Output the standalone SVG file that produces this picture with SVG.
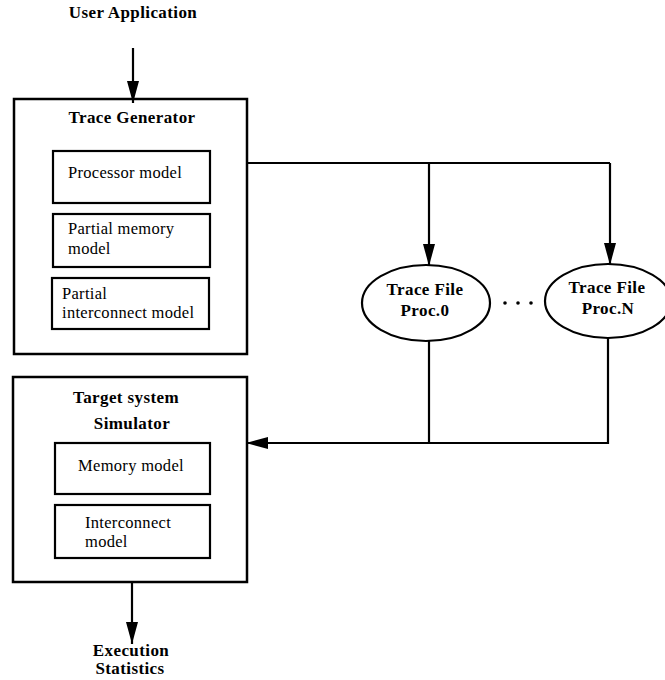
<svg xmlns="http://www.w3.org/2000/svg" width="665" height="680" viewBox="0 0 665 680">
<style>
.box{fill:none;stroke:#000;stroke-width:2.5}
.inner{fill:none;stroke:#000;stroke-width:2.2}
.line{fill:none;stroke:#000;stroke-width:2.2}
.t{font-family:"Liberation Serif","Times New Roman",serif;font-size:16.5px;letter-spacing:0.3px;fill:#000}
.b{font-family:"Liberation Serif","Times New Roman",serif;font-size:17px;font-weight:bold;letter-spacing:0.4px;fill:#000}
</style>
<defs>
<marker id="ah" viewBox="0 0 22 12" refX="22" refY="6" markerWidth="22" markerHeight="12" markerUnits="userSpaceOnUse" orient="auto">
<path d="M0,0 L22,6 L0,12 Z" fill="#000"/>
</marker>
</defs>
<g id="user-app"><text class="b" x="133" y="18" text-anchor="middle">User Application</text></g>
<g id="trace-generator">
<rect class="box" x="14" y="99" width="233" height="255"/>
<text class="b" x="132" y="123" text-anchor="middle">Trace Generator</text>
</g>
<g id="processor-model">
<rect class="inner" x="53" y="151" width="157" height="52"/>
<text class="t" x="68" y="178">Processor model</text>
</g>
<g id="partial-memory-model">
<rect class="inner" x="53" y="214" width="157" height="53"/>
<text class="t" x="68" y="234">Partial memory</text>
<text class="t" x="68" y="254">model</text>
</g>
<g id="partial-interconnect-model">
<rect class="inner" x="52" y="278" width="157" height="51"/>
<text class="t" x="62" y="299">Partial</text>
<text class="t" x="62" y="318">interconnect model</text>
</g>
<g id="target-system">
<rect class="box" x="13" y="377" width="234" height="205"/>
<text class="b" x="126" y="403" text-anchor="middle">Target system</text>
<text class="b" x="132" y="429" text-anchor="middle">Simulator</text>
</g>
<g id="memory-model">
<rect class="inner" x="55" y="443" width="155" height="51"/>
<text class="t" x="131" y="471" text-anchor="middle">Memory model</text>
</g>
<g id="interconnect-model">
<rect class="inner" x="55" y="505" width="155" height="53"/>
<text class="t" x="85" y="528">Interconnect</text>
<text class="t" x="85" y="547">model</text>
</g>
<g id="trace-file-0">
<ellipse class="inner" cx="426" cy="303" rx="64" ry="38"/>
<text class="b" x="425" y="295" text-anchor="middle">Trace File</text>
<text class="b" x="425" y="316" text-anchor="middle">Proc.0</text>
</g>
<g id="trace-file-n">
<ellipse class="inner" cx="608" cy="301" rx="63" ry="37"/>
<text class="b" x="607" y="293" text-anchor="middle">Trace File</text>
<text class="b" x="608" y="314" text-anchor="middle">Proc.N</text>
</g>
<g id="dots">
<circle cx="505" cy="303" r="1.8" fill="#000"/>
<circle cx="518" cy="303" r="1.8" fill="#000"/>
<circle cx="531" cy="303" r="1.8" fill="#000"/>
</g>
<g id="execution-statistics">
<text class="b" x="131" y="656" text-anchor="middle">Execution</text>
<text class="b" x="130" y="674" text-anchor="middle">Statistics</text>
</g>
<g id="connectors">
<line class="line" x1="133" y1="48" x2="133" y2="103" marker-end="url(#ah)"/>
<polyline class="line" points="247,163 610,163"/>
<line class="line" x1="429" y1="163" x2="429" y2="266" marker-end="url(#ah)"/>
<line class="line" x1="610" y1="163" x2="610" y2="265" marker-end="url(#ah)"/>
<polyline class="line" points="429,341 429,443"/>
<polyline class="line" points="608,338 608,443 429,443"/>
<line class="line" x1="429" y1="443" x2="246" y2="443" marker-end="url(#ah)"/>
<line class="line" x1="132" y1="582" x2="132" y2="644" marker-end="url(#ah)"/>
</g>
</svg>
